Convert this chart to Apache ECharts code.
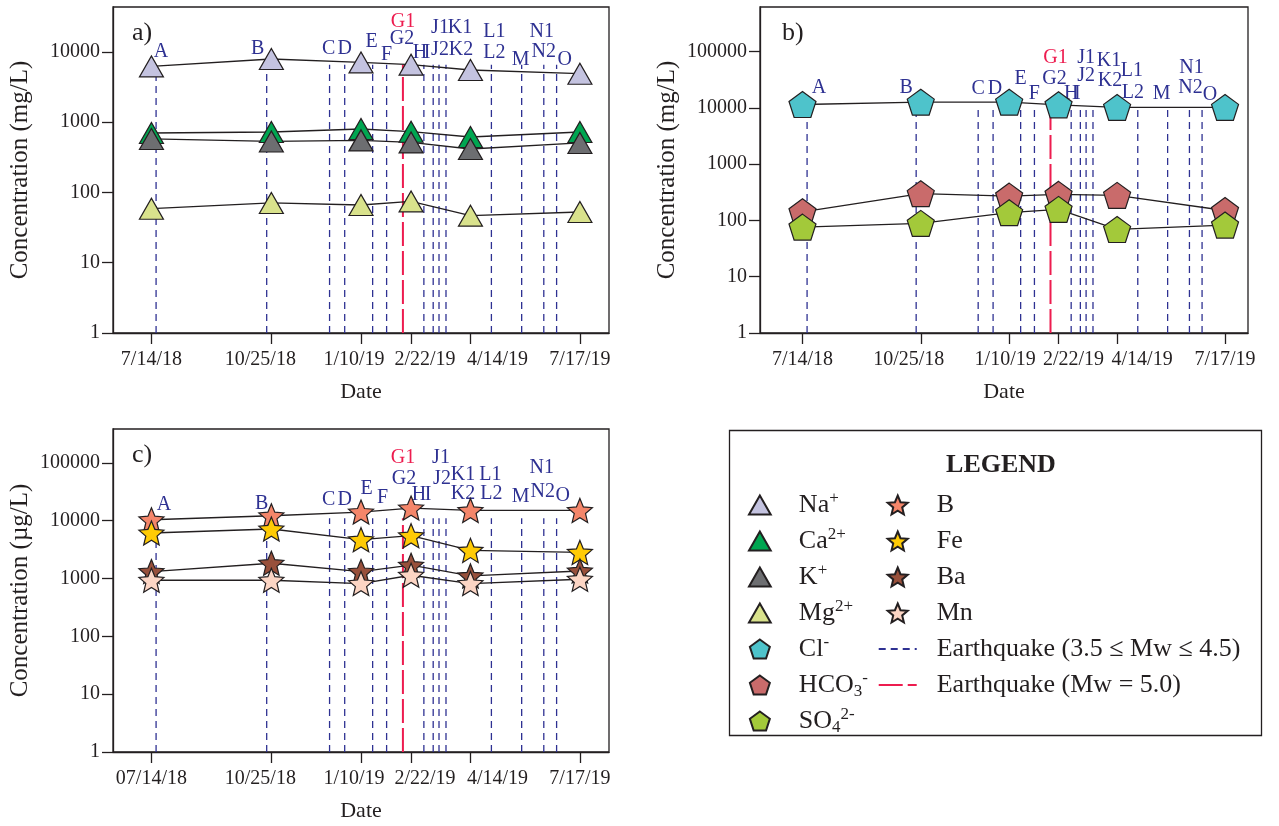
<!DOCTYPE html>
<html><head><meta charset="utf-8">
<script src="https://cdn.jsdelivr.net/npm/echarts@6/dist/echarts.min.js"></script>
<style>html,body{margin:0;padding:0;background:#fff}#c{width:1279px;height:826px}</style>
</head><body><div id="c"></div>
<script>
// ---------------- DATA ----------------
const sampleDates = ['2018-07-14','2018-10-25','2019-01-10','2019-02-22','2019-04-14','2019-07-17'];
const tickLabelsAB = ['7/14/18','10/25/18','1/10/19','2/22/19','4/14/19','7/17/19'];
const tickLabelsC  = ['07/14/18','10/25/18','1/10/19','2/22/19','4/14/19','7/17/19'];
const yTicks = [1, 10, 100, 1000, 10000, 100000];

// panel a (mg/L)
const na   = [6240, 7950, 7110, 6600, 5540, 4910];
const ca   = [703, 726, 802, 733, 617, 726];
const kk   = [578, 533, 552, 516, 416, 507];
const mg   = [58.8, 71, 66.4, 74.7, 46.8, 52.8];
// panel b (mg/L)
const cl   = [11440, 12570, 12570, 11300, 10140, 10140];
const hco3 = [142, 298, 270, 290, 278, 150];
const so4  = [76, 88.5, 137, 157, 69, 82.6];
// panel c (ug/L)
const bb   = [10400, 12200, 14140, 16560, 15060, 15060];
const fe   = [6130, 7190, 4700, 5510, 3070, 2830];
const ba   = [1320, 1840, 1320, 1700, 1110, 1350];
const mn   = [935, 935, 820, 1140, 820, 973];

// earthquakes
const quakeIds   = ['A','B','C','D','E','F','G','H','I','J','K','L','M','N','O'];
const quakeDates = ['2018-07-18','2018-10-21','2018-12-14','2018-12-27','2019-01-20','2019-02-01','2019-02-15',
                    '2019-03-05','2019-03-13','2019-03-18','2019-03-24','2019-05-02','2019-05-28','2019-06-16','2019-06-27'];
const quakeMajor = ['G'];   // Mw = 5.0
const quakeLabels = {A:['A'],B:['B'],C:['C'],D:['D'],E:['E'],F:['F'],G:['G1','G2'],H:['H'],I:['I'],
                     J:['J1','J2'],K:['K1','K2'],L:['L1','L2'],M:['M'],N:['N1','N2'],O:['O']};
const majorLabel = 'G1';

// ---------------- STYLE ----------------
const FONT = 'Liberation Serif';
const INK = '#231f20';
const QBLUE = '#2e3192';
const QRED = '#ed1c4f';
const QBLUE_TXT = '#2e3192';
const QRED_TXT = '#ed1c4f';
const quakeTop = [6600, 11000, 11000];
const labelOffsets = [
  {A:[5,-13],B:[-9,-16],C:[-1,-16],D:[0,-16],E:[-1,-23],F:[0,-10],G1:[0,-43],G2:[-1,-26],H:[-4,-12],I:[-6,-12],
   J1:[1,-37],J2:[1,-15],K1:[14,-37],K2:[15,-15],L1:[3,-33],L2:[3,-12],M:[-1,-5],N1:[-2,-33],N2:[0,-13],O:[8,-5]},
  {A:[12,-18],B:[-10,-18],C:[0,-17],D:[2,-17],E:[0,-27],F:[0,-12],G1:[5,-48],G2:[4,-27],H:[0,-12],I:[-3,-12],
   J1:[0,-48],J2:[0,-30],K1:[16,-45],K2:[17,-25],L1:[-6,-35],L2:[-5,-13],M:[-6,-12],N1:[2,-38],N2:[1,-18],O:[8,-11]},
  {A:[8,-14],B:[-5,-15],C:[-1,-19],D:[0,-19],E:[-6,-30],F:[-4,-21],G1:[0,-61],G2:[1,-40],H:[-5,-24],I:[-5,-24],
   J1:[2,-61],J2:[3,-40],K1:[17,-44],K2:[17,-25],L1:[-1,-44],L2:[0,-25],M:[-1,-22],N1:[-2,-51],N2:[-1,-27],O:[6,-23]}
];
// horizontal nudges of the date labels (px), as in the reference layout
const xLabelShift = [[0,-11,-7,14,27,0],[0,-12,-4,15,25,0],[0,-11,-7,14,27,0]];

function ts(s){ const [y,m,d] = s.split('-').map(Number); return Date.UTC(y, m-1, d); }
function starPath(){
  let p = '';
  for (let i = 0; i < 10; i++) {
    const r = i % 2 === 0 ? 1 : 0.45;
    const a = -Math.PI/2 + i*Math.PI/5;
    p += (i ? 'L' : 'M') + (r*Math.cos(a)).toFixed(4) + ' ' + (r*Math.sin(a)).toFixed(4) + ' ';
  }
  return 'path://' + p + 'Z';
}
function pentPath(){
  let p = '';
  for (let i = 0; i < 5; i++) {
    const a = -Math.PI/2 + i*2*Math.PI/5;
    p += (i ? 'L' : 'M') + Math.cos(a).toFixed(4) + ' ' + Math.sin(a).toFixed(4) + ' ';
  }
  return 'path://' + p + 'Z';
}
const STAR = starPath(), PENT = pentPath();
const TRI = 'path://M0 21 L12 0 L24 21 Z';

const grids = [
  {left:113, top:7, width:496, height:326},
  {left:760, top:7, width:488, height:326},
  {left:113, top:429, width:496, height:323}
];
const yMax = [43700, 617000, 386000];
const yNames = ['Concentration (mg/L)', 'Concentration (mg/L)', 'Concentration (\u00b5g/L)'];
const xRange = [['2018-06-11','2019-08-11'], ['2018-06-07','2019-08-06'], ['2018-06-11','2019-08-11']];
const tickLabelSets = [tickLabelsAB, tickLabelsAB, tickLabelsC];
const sampleTs = sampleDates.map(ts);

const xAxes = grids.map((g, p) => {
  const rich = {};
  xLabelShift[p].forEach((s, i) => {
    rich['s' + i] = {fontFamily:FONT, fontSize:20, color:INK,
      padding: s >= 0 ? [0, 0, 0, 2*s] : [0, -2*s, 0, 0]};
  });
  return {
    type:'value', gridIndex:p, min: ts(xRange[p][0]), max: ts(xRange[p][1]),
    name:'Date', nameLocation:'middle', nameGap:48,
    nameTextStyle:{fontFamily:FONT, fontSize:22, color:INK},
    axisLine:{show:true, onZero:false, lineStyle:{color:INK, width:1.3}},
    axisTick:{show:true, inside:false, length:11, customValues: sampleTs, lineStyle:{color:INK, width:1.3}},
    axisLabel:{show:true, customValues: sampleTs, margin:17, fontFamily:FONT, fontSize:20, color:INK, hideOverlap:false,
      rich,
      formatter: v => { const i = sampleTs.indexOf(v); return i >= 0 ? '{s' + i + '|' + tickLabelSets[p][i] + '}' : ''; }},
    splitLine:{show:false}, minorTick:{show:false}
  };
});
const yAxes = grids.map((g, p) => ({
  type:'log', logBase:10, gridIndex:p, min:1, max:yMax[p],
  name:yNames[p], nameLocation:'middle', nameGap:80,
  nameTextStyle:{fontFamily:FONT, fontSize:25, color:INK},
  axisLine:{show:true, lineStyle:{color:INK, width:1.3}},
  axisTick:{show:true, length:11, customValues: yTicks.filter(v => v < yMax[p]), lineStyle:{color:INK, width:1.3}},
  axisLabel:{show:true, customValues: yTicks.filter(v => v < yMax[p]), margin:13, fontFamily:FONT, fontSize:20, color:INK,
    formatter: v => String(Math.round(v))},
  splitLine:{show:false}, minorTick:{show:false}
}));

const series = [];
function dataSeries(name, arr, p, symbol, size, color){
  series.push({
    type:'line', name, xAxisIndex:p, yAxisIndex:p,
    data: sampleTs.map((t, i) => [t, arr[i]]),
    symbol, symbolSize:size, showSymbol:true,
    itemStyle:{color, borderColor:INK, borderWidth:1.2},
    lineStyle:{color:INK, width:1.3}, z:5, silent:true
  });
}
dataSeries('Na+',   na,   0, TRI, [24,21], '#c4c3e0');
dataSeries('Ca2+',  ca,   0, TRI, [24,21], '#00a651');
dataSeries('K+',    kk,   0, TRI, [24,21], '#6d6e71');
dataSeries('Mg2+',  mg,   0, TRI, [24,21], '#d9e28c');
dataSeries('Cl-',   cl,   1, PENT, [27,26], '#4ec3cb');
dataSeries('HCO3-', hco3, 1, PENT, [27,26], '#c96b6b');
dataSeries('SO42-', so4,  1, PENT, [27,26], '#a3c93a');
dataSeries('B',     bb,   2, STAR, [25,24], '#f4866a');
dataSeries('Fe',    fe,   2, STAR, [25,24], '#ffcb05');
dataSeries('Ba',    ba,   2, STAR, [25,24], '#98503b');
dataSeries('Mn',    mn,   2, STAR, [25,24], '#fcd5c4');

const EQ_SMALL = 'Earthquake (3.5 \u2264 Mw \u2264 4.5)';
const EQ_BIG = 'Earthquake (Mw = 5.0)';
for (let p = 0; p < 3; p++) {
  quakeIds.forEach((id, i) => {
    const major = quakeMajor.includes(id);
    const t = ts(quakeDates[i]);
    const col = major ? QRED : QBLUE;
    series.push({
      type:'line', name: major ? EQ_BIG : EQ_SMALL, xAxisIndex:p, yAxisIndex:p,
      data:[[t, 1], [t, quakeTop[p]]], symbol:'none', silent:true, z:1,
      itemStyle:{color:col},
      lineStyle: major ? {color:QRED, width:2, type:[24,5]} : {color:QBLUE, width:1.3, type:[7,5]}
    });
  });
  const labData = [];
  quakeIds.forEach((id, i) => {
    quakeLabels[id].forEach(txt => {
      labData.push({value:[ts(quakeDates[i]), quakeTop[p]],
        label:{formatter:txt, offset:labelOffsets[p][txt], color: txt === majorLabel ? QRED_TXT : QBLUE_TXT}});
    });
  });
  series.push({
    type:'scatter', xAxisIndex:p, yAxisIndex:p, data:labData, symbol:'circle', symbolSize:1,
    itemStyle:{color:'rgba(0,0,0,0)', opacity:1}, silent:true, z:3,
    label:{show:true, position:'inside', opacity:1, fontFamily:FONT, fontSize:20, textBorderWidth:0, textBorderColor:'transparent',
      textShadowBlur:0}
  });
}

const legendText = {'Na+':'Na{sup|+}','Ca2+':'Ca{sup|2+}','K+':'K{sup|+}','Mg2+':'Mg{sup|2+}','Cl-':'Cl{sup|-}',
  'HCO3-':'HCO{sub|3}{sup|-}','SO42-':'SO{sub|4}{sup|2-}'};

const option = {
  animation:false,
  backgroundColor:'#fff',
  grid: grids.map(g => Object.assign({show:true, borderColor:INK, borderWidth:1.3, backgroundColor:'transparent'}, g)),
  xAxis: xAxes, yAxis: yAxes, series,
  title: [
    {text:'a)', left:127, top:15, textStyle:{fontFamily:FONT, fontSize:26, fontWeight:'normal', color:INK}},
    {text:'b)', left:777, top:15, textStyle:{fontFamily:FONT, fontSize:26, fontWeight:'normal', color:INK}},
    {text:'c)', left:127, top:437, textStyle:{fontFamily:FONT, fontSize:26, fontWeight:'normal', color:INK}},
    {text:'LEGEND', left:996, top:447, textAlign:'center', textStyle:{fontFamily:FONT, fontSize:26, fontWeight:'bold', color:INK}}
  ],
  graphic: [{type:'rect', shape:{x:729.5, y:430.5, width:532, height:305}, style:{fill:'none', stroke:INK, lineWidth:1.3}, silent:true}],
  legend: {
    orient:'vertical', left:748, top:490, height:262, padding:0,
    itemWidth:38, itemHeight:19, itemGap:6, selectedMode:false, symbolKeepAspect:true,
    data: [
      {name:'Na+', icon:TRI}, {name:'Ca2+', icon:TRI}, {name:'K+', icon:TRI}, {name:'Mg2+', icon:TRI},
      {name:'Cl-', icon:PENT}, {name:'HCO3-', icon:PENT}, {name:'SO42-', icon:PENT},
      {name:'B', icon:STAR}, {name:'Fe', icon:STAR}, {name:'Ba', icon:STAR}, {name:'Mn', icon:STAR},
      {name:EQ_SMALL, itemStyle:{opacity:0}}, {name:EQ_BIG, itemStyle:{opacity:0}}
    ],
    formatter: n => legendText[n] || n,
    textStyle:{fontFamily:FONT, fontSize:26, lineHeight:30, color:INK, width:81, padding:[0,0,0,15],
      rich:{
        sup:{fontFamily:FONT, fontSize:17, lineHeight:17, verticalAlign:'top', color:INK},
        sub:{fontFamily:FONT, fontSize:17, lineHeight:17, verticalAlign:'bottom', color:INK}
      }}
  }
};
const chart = echarts.init(document.getElementById('c'));
chart.setOption(option);
</script></body></html>
